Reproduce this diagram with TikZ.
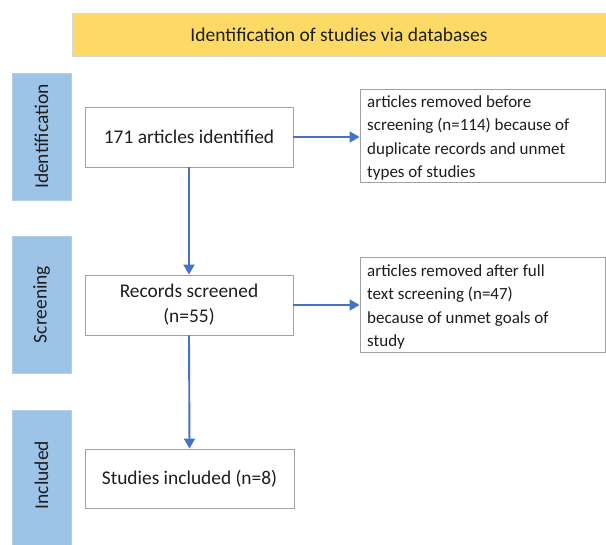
\documentclass[tikz,border=0pt]{standalone}
\usepackage{fontspec}
\setmainfont{Carlito}
\usetikzlibrary{arrows.meta}
\definecolor{hdr}{HTML}{FDD966}
\definecolor{side}{HTML}{9DC3E6}
\definecolor{bord}{HTML}{A0A0A0}
\definecolor{arr}{HTML}{4472C4}
\definecolor{txt}{HTML}{1E1E1E}
\tikzset{
  box/.style={draw=bord, line width=0.9pt, fill=white, rectangle, inner sep=0pt, align=center, text=txt, font=\fontsize{19.4}{25}\selectfont},
  sidebox/.style={fill=side, draw=side!80!white, line width=0.5pt, rectangle, inner sep=0pt},
  sidelabel/.style={rotate=90, text=txt, font=\fontsize{19.5}{22}\selectfont},
  sidetext/.style={anchor=base west, align=left, text=txt, inner sep=0pt, font=\fontsize{17}{23.4}\selectfont},
  flow/.style={draw=arr, line width=1.9pt, -{Triangle[length=10pt,width=11pt]}},
}
\begin{document}
\begin{tikzpicture}[x=1pt,y=-1pt]
\useasboundingbox (0,0) rectangle (606,545);
% header
\node[draw=black!15, line width=0.8pt, fill=hdr, minimum width=534pt, minimum height=43pt, inner sep=0pt, text=txt, font=\fontsize{19.5}{22}\selectfont] (hd) at (339,34.5) {Identification of studies via databases};
% side labels
\node[sidebox, minimum width=59pt, minimum height=127pt] (s1) at (41.5,136.5) {};
\node[sidelabel] (l1) at (s1.center) {Identification};
\node[sidebox, minimum width=59pt, minimum height=137pt] (s2) at (41.5,304.5) {};
\node[sidelabel] (l2) at (s2.center) {Screening};
\node[sidebox, minimum width=59pt, minimum height=137pt] (s3) at (41.5,478.5) {};
\node[sidelabel] (l3) at (41.5,475) {Included};
% main boxes
\node[box, minimum width=208pt, minimum height=60pt] (b1) at (189,137) {171 articles identified};
\node[box, minimum width=208pt, minimum height=60pt] (b2) at (189,305) {Records screened\\(n=55)};
\node[box, minimum width=209pt, minimum height=59pt] (b3) at (189.5,478.5) {Studies included (n=8)};
% right boxes
\node[box, minimum width=245pt, minimum height=93pt] (r1) at (482.5,135.5) {};
\node[sidetext] (t1) at (367,177.7) {articles removed before\\screening (n=114) because of\\duplicate records and unmet\\types of studies};
\node[box, minimum width=245pt, minimum height=95pt] (r2) at (482.5,304.5) {};
\node[sidetext] (t2) at (367,346.7) {articles removed after full\\text screening (n=47)\\because of unmet goals of\\study};
% arrows
\draw[flow] (b1.south) -- (b2.north);
\draw[flow] (b2.south) -- (b3.north);
\draw[flow] (b1.east) -- (r1.west |- b1.east);
\draw[flow] (b2.east) -- (r2.west |- b2.east);
\end{tikzpicture}
\end{document}
